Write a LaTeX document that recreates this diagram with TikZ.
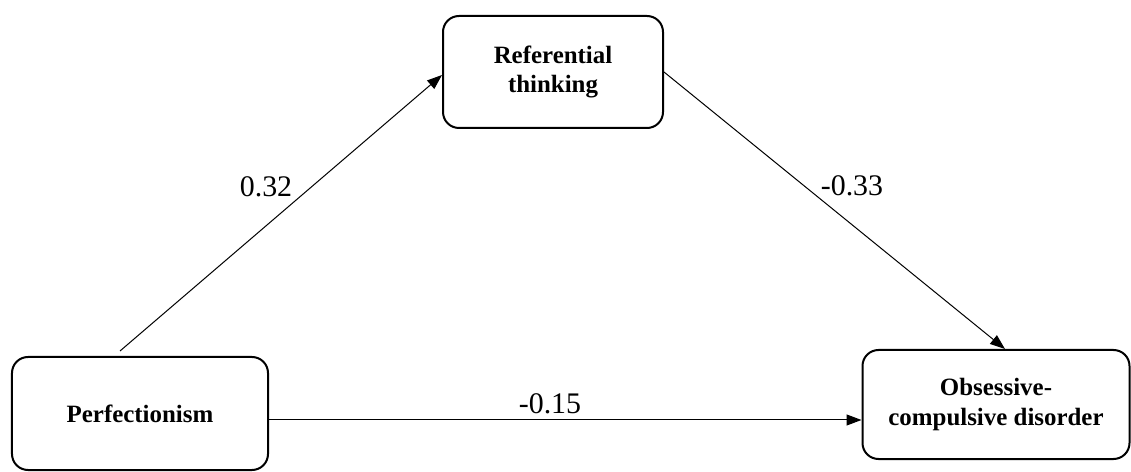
\documentclass[tikz,border=0pt]{standalone}
\usepackage{fontspec}
\setmainfont{Liberation Serif}
\usetikzlibrary{arrows.meta,calc}
\begin{document}
\begin{tikzpicture}[x=1bp,y=-1bp,
  box/.style={draw,line width=2bp,rounded corners=16bp,align=center,font=\fontsize{25}{30}\selectfont\bfseries,inner sep=0pt},
  arr/.style={line width=1bp,-{Triangle[length=15bp,width=11bp]}},
  lab/.style={font=\fontsize{30}{34}\selectfont,inner sep=0pt}]
\useasboundingbox (0,0) rectangle (1131,472);
\node[box,minimum width=220bp,minimum height=112bp] (ref) at (553,72) {Referential\\thinking};
\node[box,minimum width=256bp,minimum height=113bp] (perf) at (140,413.5) {Perfectionism};
\node[box,minimum width=267bp,minimum height=109bp] (ocd) at (996,404.5) {Obsessive-\\compulsive disorder};
\draw[arr] ([xshift=-20bp,yshift=5bp]perf.north) -- ([yshift=-3bp]ref.west);
\draw[arr] (ref.east) -- ([xshift=9bp]ocd.north);
\draw[arr] ([yshift=-6.5bp]perf.east) -- ([yshift=-6.5bp]perf.east -| ocd.west);
\node[lab] (l1) at (266,187) {0.32};
\node[lab] (l2) at (852,186) {-0.33};
\node[lab] (l3) at (550,404) {-0.15};
\end{tikzpicture}
\end{document}
